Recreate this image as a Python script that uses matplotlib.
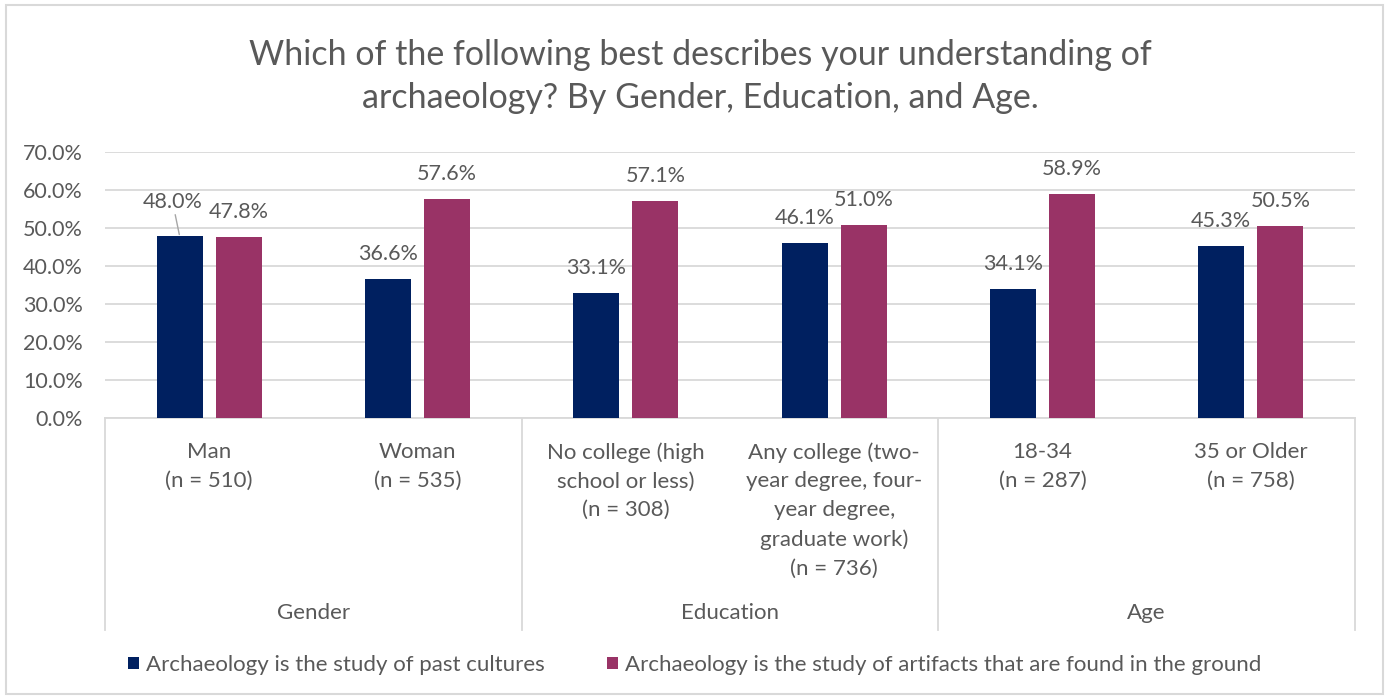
#!/usr/bin/env python

import numpy
import matplotlib

import matplotlib.figure as figure
from matplotlib.backends.backend_agg import FigureCanvasAgg as FigCanvas
from matplotlib.patches import Rectangle
from matplotlib.lines import Line2D
import matplotlib.transforms as mtransforms

categories = [
    "Man\n(n = 510)",
    "Woman\n(n = 535)",
    "No college (high\nschool or less)\n(n = 308)",
    "Any college (two-\nyear degree, four-\nyear degree,\ngraduate work)\n(n = 736)",
    "18-34\n(n = 287)",
    "35 or Older\n(n = 758)",
]
groups = ["Gender", "Education", "Age"]
series_names = [
    "Archaeology is the study of past cultures",
    "Archaeology is the study of artifacts that are found in the ground",
]
past_cultures = [48.0, 36.6, 33.1, 46.1, 34.1, 45.3]
artifacts = [47.8, 57.6, 57.1, 51.0, 58.9, 50.5]
yticks = [0, 10, 20, 30, 40, 50, 60, 70]

NAVY = "#002060"
PLUM = "#993366"
GREY = "#595959"
LINE = "#D9D9D9"
FONT = "Lato"


def plot():
    W, H = 1389, 698
    fig = figure.Figure(figsize=(W / 100.0, H / 100.0), dpi=100)
    canvas = FigCanvas(fig)
    fig.patch.set_facecolor("white")

    # outer chart border
    fig.patches.append(Rectangle((6.0 / W, 4.0 / H), 1377.0 / W, 689.0 / H,
                                 transform=fig.transFigure, fill=False,
                                 edgecolor=LINE, lw=1.5))

    x0, x1 = 105.0, 1355.0
    ytop, ybot = 152.3, 418.3
    ax = fig.add_axes([x0 / W, 1 - ybot / H, (x1 - x0) / W, (ybot - ytop) / H])

    n = len(categories)
    x = numpy.arange(n)
    width = 0.221
    off = 0.142
    b1 = ax.bar(x - off, past_cultures, width, color=NAVY, label=series_names[0], zorder=3)
    b2 = ax.bar(x + off, artifacts, width, color=PLUM, label=series_names[1], zorder=3)

    ax.set_xlim(-0.5, n - 0.5)
    ax.set_ylim(0, 70)
    ax.set_yticks(yticks)
    ax.set_yticklabels(["%.1f%%" % v for v in yticks], fontsize=15.5,
                       color=GREY, family=FONT)
    ax.tick_params(axis="y", length=0, pad=16)
    ax.set_xticks([])
    ax.yaxis.grid(True, color=LINE, lw=1.3, zorder=0)
    for s in ["top", "right", "left"]:
        ax.spines[s].set_visible(False)
    ax.spines["bottom"].set_color(LINE)
    ax.spines["bottom"].set_linewidth(1.3)

    # value labels
    for i in range(n):
        for xi, v in ((x[i] - off, past_cultures[i]), (x[i] + off, artifacts[i])):
            if i == 0 and xi < x[i]:
                ax.annotate("%.1f%%" % v, xy=(xi, v), xytext=(-7, 34),
                            textcoords="offset pixels", ha="center", va="center",
                            fontsize=15.5, color=GREY, family=FONT,
                            arrowprops=dict(arrowstyle="-", color="#A6A6A6",
                                            lw=1.0, shrinkA=0, shrinkB=1))
            else:
                ax.annotate("%.1f%%" % v, xy=(xi, v), xytext=(0, 25),
                            textcoords="offset pixels", ha="center", va="center",
                            fontsize=15.5, color=GREY, family=FONT)

    # two-level category axis
    trans = mtransforms.blended_transform_factory(ax.transData, ax.transAxes)
    axh = ybot - ytop
    yfrac = lambda py: -(py - ybot) / axh
    for gx in [-0.5, 1.5, 3.5, 5.5]:
        ax.add_line(Line2D([gx, gx], [0, yfrac(630)], transform=trans,
                           color=LINE, lw=1.3, clip_on=False))
    for i, lab in enumerate(categories):
        ax.text(x[i], yfrac(442), lab, transform=trans, ha="center", va="top",
                fontsize=16, color=GREY, family=FONT, linespacing=1.55)
    for g, lab in enumerate(groups):
        ax.text(2 * g + 0.5, yfrac(613), lab, transform=trans, ha="center",
                va="center", fontsize=16, color=GREY, family=FONT)

    fig.text(700.0 / W, 1 - 76.5 / H,
             "Which of the following best describes your understanding of\n"
             "archaeology? By Gender, Education, and Age.",
             ha="center", va="center", fontsize=24.5, color=GREY, family=FONT,
             linespacing=1.4)

    fig.legend(handles=[b1, b2], loc="center", bbox_to_anchor=(0.5, 1 - 665.0 / H),
               ncol=2, frameon=False, handlelength=0.5, handleheight=0.5,
               handletextpad=0.3, columnspacing=2.8,
               prop=dict(family=FONT, size=16), labelcolor=GREY)

    return fig


if __name__ == '__main__':
    fig = plot()
    fig.savefig("out.png", dpi=100)
